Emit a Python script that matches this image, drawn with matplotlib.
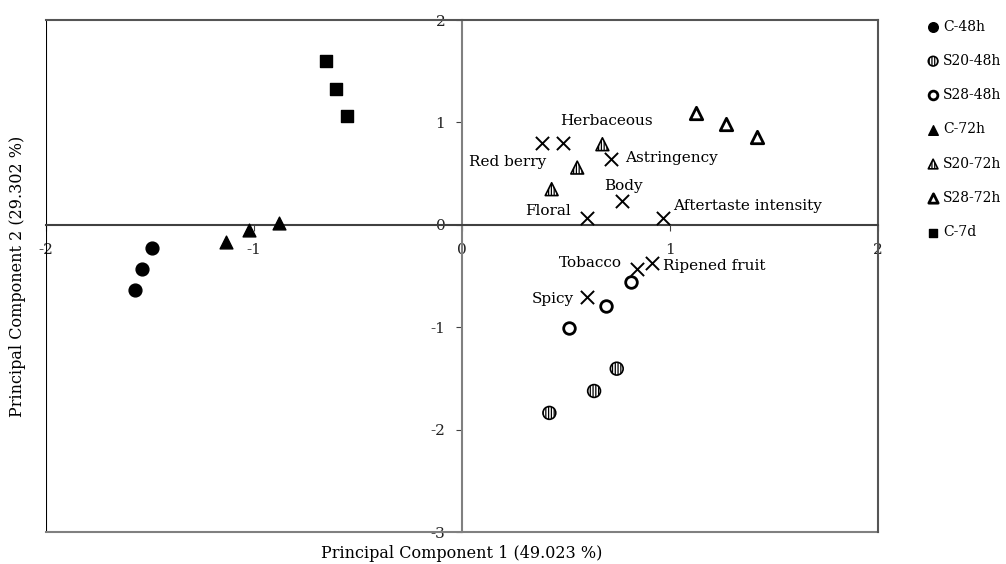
import matplotlib
matplotlib.use('Agg')
import matplotlib.pyplot as plt

plt.rcParams['font.family'] = ['DejaVu Serif', 'Liberation Serif']
plt.rcParams['hatch.linewidth'] = 0.9

# sample scores (PC1, PC2)
c48_x = [-1.492, -1.537, -1.574]
c48_y = [-0.228, -0.431, -0.636]
s20_48_x = [0.744, 0.635, 0.420]
s20_48_y = [-1.405, -1.623, -1.837]
s28_48_x = [0.813, 0.693, 0.514]
s28_48_y = [-0.559, -0.790, -1.012]
c72_x = [-1.133, -1.022, -0.881]
c72_y = [-0.169, -0.050, 0.016]
s20_72_x = [0.675, 0.554, 0.431]
s20_72_y = [0.787, 0.559, 0.348]
s28_72_x = [1.123, 1.267, 1.416]
s28_72_y = [1.096, 0.985, 0.856]
c7d_x = [-0.656, -0.605, -0.555]
c7d_y = [1.595, 1.328, 1.060]

# sensory attributes (loadings)
attr_names = ['Red berry', 'Herbaceous', 'Astringency', 'Body', 'Floral',
              'Aftertaste intensity', 'Tobacco', 'Ripened fruit', 'Spicy']
attr_x = [0.385, 0.485, 0.716, 0.768, 0.602, 0.965, 0.840, 0.912, 0.601]
attr_y = [0.797, 0.797, 0.644, 0.234, 0.065, 0.071, -0.429, -0.374, -0.705]

# label placement (pixels offset, alignment)
label_offsets = [(4, -19), (-3, 22), (14, 1), (2, 15), (-16, 7),
                 (10, 12), (-15, 6), (11, -3), (-13, -2)]
label_ha = ['right', 'left', 'left', 'center', 'right',
            'left', 'right', 'left', 'right']

fig = plt.figure(figsize=(10.06, 5.64), dpi=100)
ax = fig.add_axes([46 / 1006, 1 - 532 / 564, (878 - 46) / 1006, (532 - 20) / 564])

ms = 85
hatch = '||||||'
ax.scatter(c48_x, c48_y, s=ms, marker='o', color='black', label='C-48h', zorder=3)
ax.scatter(s20_48_x, s20_48_y, s=ms, marker='o', facecolor='white', edgecolor='black',
           hatch=hatch, linewidth=1.2, label='S20-48h', zorder=3)
ax.scatter(s28_48_x, s28_48_y, s=70, marker='o', facecolor='white', edgecolor='black',
           linewidth=2, label='S28-48h', zorder=3)
ax.scatter(c72_x, c72_y, s=ms, marker='^', color='black', label='C-72h', zorder=3)
ax.scatter(s20_72_x, s20_72_y, s=ms, marker='^', facecolor='white', edgecolor='black',
           hatch=hatch, linewidth=1.2, label='S20-72h', zorder=3)
ax.scatter(s28_72_x, s28_72_y, s=80, marker='^', facecolor='white', edgecolor='black',
           linewidth=2, label='S28-72h', zorder=3)
ax.scatter(c7d_x, c7d_y, s=70, marker='s', color='black', label='C-7d', zorder=3)

ax.scatter(attr_x, attr_y, s=90, marker='x', color='black', linewidth=1.4, zorder=3)
for name, x, y, off, ha in zip(attr_names, attr_x, attr_y, label_offsets, label_ha):
    ax.annotate(name, (x, y), xytext=off, textcoords='offset pixels',
                ha=ha, va='center', fontsize=11)

ax.set_xlim(-2, 2)
ax.set_ylim(-3, 2)

# axes through the origin, gray frame around
ax.spines['left'].set_position(('data', 0))
ax.spines['bottom'].set_position(('data', 0))
ax.spines['left'].set_color('#808080')
ax.spines['bottom'].set_color('#404040')
ax.spines['left'].set_linewidth(1.5)
ax.spines['bottom'].set_linewidth(1.5)
ax.spines['top'].set_color('#555555')
ax.spines['right'].set_color('#555555')
ax.spines['top'].set_linewidth(1.5)
ax.spines['right'].set_linewidth(1.5)
ax.axvline(-2, color='black', linewidth=1.5)
ax.axhline(-3, color='#808080', linewidth=1.5, clip_on=False)

ax.set_xticks([-2, -1, 0, 1, 2])
ax.set_yticks([-3, -2, -1, 0, 1, 2])
ax.set_xticklabels(['-2', '-1', '0', '1', '2'])
ax.set_yticklabels(['-3', '-2', '-1', '0', '1', '2'])
ax.tick_params(axis='both', labelsize=11, length=4, color='#404040', labelcolor='#222222')
ax.tick_params(axis='x', direction='out', pad=9)
ax.tick_params(axis='y', direction='out', pad=8)

fig.text(462 / 1006, 1 - 553 / 564, 'Principal Component 1 (49.023 %)',
         ha='center', va='center', fontsize=11.5)
fig.text(18 / 1006, 1 - 276 / 564, 'Principal Component 2 (29.302 %)',
         ha='center', va='center', rotation=90, fontsize=11.5)

fig.legend(loc='upper left', bbox_to_anchor=(922 / 1006, 1 - 14 / 564), frameon=False,
           fontsize=10, handlelength=0.8, handletextpad=0.32, labelspacing=1.46,
           markerscale=0.75, borderaxespad=0)

fig.savefig('out.png', dpi=100)
